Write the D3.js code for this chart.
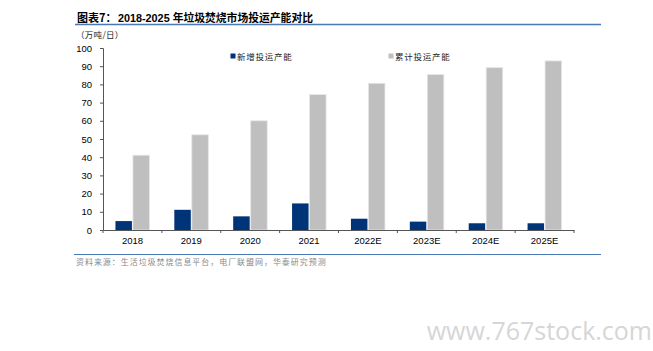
<!DOCTYPE html>
<html>
<head>
<meta charset="utf-8">
<script src="https://cdn.jsdelivr.net/npm/d3@7"></script>
<style>
  body { margin: 0; background: #fff; }
  svg { display: block; }
</style>
</head>
<body>
<div id="chart"></div>
<script>
// data (万吨/日)
const years = ['2018', '2019', '2020', '2021', '2022E', '2023E', '2024E', '2025E'];
const newCapacity = [4.9, 11.1, 7.5, 14.6, 6.2, 4.6, 3.7, 3.7];
const totalCapacity = [41.1, 52.3, 60.0, 74.4, 80.6, 85.4, 89.2, 92.9];
const yTicks = [0, 10, 20, 30, 40, 50, 60, 70, 80, 90, 100];
const seriesNames = ['新增投运产能', '累计投运产能'];
const colors = ['#003478', '#bfbfbf'];

const W = 653, H = 351;
const margin = { top: 48, right: 79, bottom: 121, left: 103 };
const width = W - margin.left - margin.right;
const height = H - margin.top - margin.bottom;

const cjk = '"Noto Sans CJK SC", sans-serif';
const latin = 'Arial, "Liberation Sans", sans-serif';

const svg = d3.select('#chart')
    .append('svg')
    .attr('width', W)
    .attr('height', H);

// title + rule
svg.append('text')
    .attr('x', 77)
    .attr('y', 21.5)
    .style('font-family', cjk)
    .style('font-size', '11px')
    .style('font-weight', 'bold')
    .text('图表7：');

svg.append('text')
    .attr('x', 118)
    .attr('y', 21.5)
    .style('font-family', `Arial, ${cjk}`)
    .style('font-size', '10.8px')
    .style('font-weight', 'bold')
    .text('2018-2025 年垃圾焚烧市场投运产能对比');

svg.append('line')
    .attr('x1', 75).attr('x2', 601)
    .attr('y1', 24.5).attr('y2', 24.5)
    .attr('stroke', '#4a78b5')
    .attr('stroke-width', 1.3);

// unit
svg.append('text')
    .attr('x', 76)
    .attr('y', 37.5)
    .style('font-family', cjk)
    .style('font-size', '8.5px')
    .style('letter-spacing', '0.3px')
    .attr('fill', '#222')
    .text('（万吨/日）');

const g = svg.append('g')
    .attr('transform', `translate(${margin.left},${margin.top})`);

const x = d3.scaleBand()
    .domain(years)
    .range([0, width]);

const y = d3.scaleLinear()
    .domain([0, 100])
    .range([height, 0]);

const barW = 16.5;

// bars
g.selectAll('.bar-new')
    .data(years)
    .enter()
    .append('rect')
    .attr('class', 'bar-new')
    .attr('x', d => x(d) + x.bandwidth() / 2 - barW - 0.5)
    .attr('width', barW)
    .attr('y', (d, i) => y(newCapacity[i]))
    .attr('height', (d, i) => height - y(newCapacity[i]))
    .attr('fill', colors[0]);

g.selectAll('.bar-total')
    .data(years)
    .enter()
    .append('rect')
    .attr('class', 'bar-total')
    .attr('x', d => x(d) + x.bandwidth() / 2 + 0.5)
    .attr('width', barW)
    .attr('y', (d, i) => y(totalCapacity[i]))
    .attr('height', (d, i) => height - y(totalCapacity[i]))
    .attr('fill', colors[1])
    .attr('stroke', '#e6e6e6')
    .attr('stroke-width', 0.8);

// y axis
const yAxis = g.append('g')
    .call(d3.axisLeft(y).tickValues(yTicks).tickSize(3).tickPadding(8));
yAxis.select('.domain').attr('stroke', '#555');
yAxis.selectAll('.tick line').attr('stroke', '#555');
yAxis.selectAll('text')
    .style('font-family', latin)
    .style('font-size', '9.5px')
    .attr('fill', '#000');

// x axis, ticks on category boundaries
const xAxis = g.append('g')
    .attr('transform', `translate(0,${height})`)
    .call(d3.axisBottom(x).tickSize(0).tickPadding(7));
xAxis.select('.domain').attr('stroke', '#555');
xAxis.selectAll('text')
    .style('font-family', latin)
    .style('font-size', '9.5px')
    .attr('fill', '#000');

g.append('g')
    .selectAll('line')
    .data(years.concat(['end']))
    .enter()
    .append('line')
    .attr('x1', (d, i) => i * x.step())
    .attr('x2', (d, i) => i * x.step())
    .attr('y1', height)
    .attr('y2', height + 3)
    .attr('stroke', '#555');

// legend
const legendX = [230.5, 388.5];
const legend = svg.append('g');
seriesNames.forEach((name, i) => {
    legend.append('rect')
        .attr('x', legendX[i])
        .attr('y', 53.5)
        .attr('width', 5)
        .attr('height', 5)
        .attr('fill', colors[i]);
    legend.append('text')
        .attr('x', legendX[i] + 6.5)
        .attr('y', 59.5)
        .style('font-family', cjk)
        .style('font-size', '8.5px')
        .style('letter-spacing', '0.75px')
        .attr('fill', '#222')
        .text(name);
});

// source rule + text
svg.append('line')
    .attr('x1', 74).attr('x2', 601)
    .attr('y1', 254.5).attr('y2', 254.5)
    .attr('stroke', '#4a78b5')
    .attr('stroke-width', 1);

svg.append('text')
    .attr('x', 76)
    .attr('y', 264.5)
    .style('font-family', cjk)
    .style('font-size', '8px')
    .style('letter-spacing', '0.95px')
    .attr('fill', '#8a8a8a')
    .text('资料来源：生活垃圾焚烧信息平台，电厂联盟网，华泰研究预测');

// watermark
svg.append('text')
    .attr('x', 652)
    .attr('y', 340)
    .attr('text-anchor', 'end')
    .style('font-family', '"Open Sans", sans-serif')
    .style('font-size', '25px')
    .attr('fill', '#d6d6d6')
    .text('www.767stock.com');
</script>
</body>
</html>
